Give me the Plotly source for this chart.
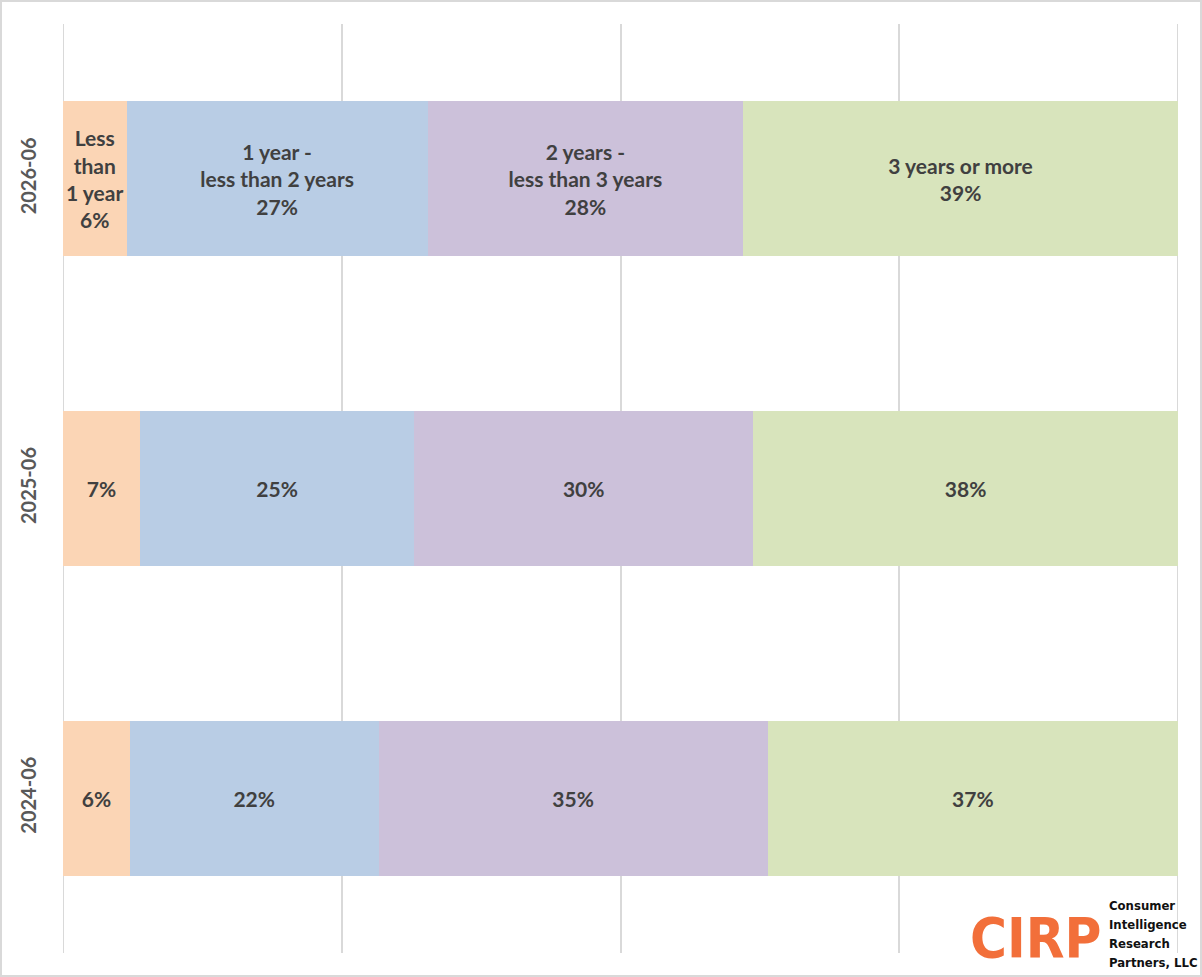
import plotly.graph_objects as go

periods = ["2024-06", "2025-06", "2026-06"]
series_names = ["Less than 1 year", "1 year - less than 2 years",
                "2 years - less than 3 years", "3 years or more"]
less_1 = [6.0, 6.9, 5.7]
y1_2 = [22.3, 24.6, 27.0]
y2_3 = [34.9, 30.4, 28.3]
y3_plus = [36.8, 38.1, 39.0]
values = [less_1, y1_2, y2_3, y3_plus]
label_names = ["Less<br>than<br>1 year", "1 year -<br>less than 2 years",
               "2 years -<br>less than 3 years", "3 years or more"]
colors = ["#FBD5B5", "#B9CDE5", "#CCC1DA", "#D8E4BC"]
x_edges = [0, 100]
logo_lines = ["Consumer", "Intelligence", "Research", "Partners, LLC"]

W, H = 1202, 977
L, R, T, B = 63, 24, 24, 24
pw, ph = W - L - R, H - T - B

fig = go.Figure()
for name, vals, lab, col in zip(series_names, values, label_names, colors):
    texts = []
    for p, v in zip(periods, vals):
        pct = f"{round(v):.0f}%"
        texts.append(f"{lab}<br>{pct}" if p == "2026-06" else pct)
    fig.add_trace(go.Bar(
        y=periods, x=vals, orientation="h", name=name,
        marker=dict(color=col, line=dict(width=0)),
        text=texts, textposition="inside", insidetextanchor="middle",
        textangle=0, constraintext="none",
        textfont=dict(family="Lato", size=21, color="#404040", weight="bold"),
        hoverinfo="skip",
    ))

# edge gridlines (0% and 100%)
for xe in x_edges:
    fig.add_shape(type="line", xref="x", yref="paper", x0=xe, x1=xe, y0=0, y1=1,
                  line=dict(color="#D9D9D9", width=2), layer="below")

# border around the whole chart
fig.add_shape(type="rect", xref="paper", yref="paper",
              x0=(1 - L) / pw, x1=(W - 1 - L) / pw,
              y0=-(B - 1) / ph, y1=1 + (T - 1) / ph,
              line=dict(color="#D9D9D9", width=2), fillcolor="rgba(0,0,0,0)", layer="above")

# logo text
fig.add_annotation(xref="paper", yref="paper",
                   x=(1103 - L) / pw, y=-(972 - (H - B)) / ph,
                   xanchor="right", yanchor="bottom", showarrow=False,
                   text="<span style='font-stretch:condensed'>CIRP</span>",
                   font=dict(family="DejaVu Sans", size=56, color="#F26F3A", weight="bold"))
for i, line in enumerate(logo_lines):
    yc = 905 + i * 19.3
    fig.add_annotation(xref="paper", yref="paper",
                       x=(1107 - L) / pw, y=-(yc - (H - B)) / ph,
                       xanchor="left", yanchor="middle", align="left", showarrow=False,
                       text=f"<span style='font-stretch:condensed'>{line}</span>",
                       font=dict(family="DejaVu Sans", size=13, color="#111111", weight="bold"))

fig.update_layout(
    width=W, height=H, barmode="stack", bargap=0.5,
    margin=dict(l=L, r=R, t=T, b=B),
    paper_bgcolor="white", plot_bgcolor="white", showlegend=False,
    uniformtext=dict(minsize=21, mode="show"),
    xaxis=dict(range=[0, 100], dtick=25, showgrid=True, gridcolor="#D9D9D9",
               gridwidth=2, zeroline=False, showticklabels=False, showline=False,
               fixedrange=True),
    yaxis=dict(type="category", categoryorder="array", categoryarray=periods,
               tickangle=-90,
               tickfont=dict(family="Lato", size=20, color="#595959", weight="bold"),
               showgrid=False, zeroline=False, showline=False, ticks="",
               ticklabelstandoff=22, fixedrange=True),
)

fig.write_html("out.html", config={"displayModeBar": False},
               post_script="document.body.style.margin='0';")
